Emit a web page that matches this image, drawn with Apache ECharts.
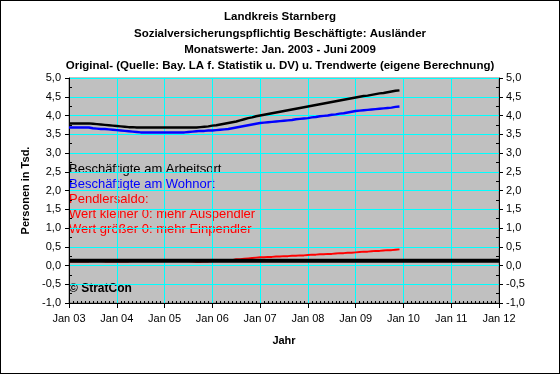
<!DOCTYPE html>
<html><head><meta charset="utf-8">
<script src="https://cdn.jsdelivr.net/npm/echarts@6/dist/echarts.min.js"></script>
<style>html,body{margin:0;padding:0;background:#fff}#c{width:560px;height:374px;box-sizing:border-box;border:1px solid #000}</style>
</head><body><div id="c"></div>
<script>
// Monthly values Jan 2003 .. Dec 2009 (thousands of persons)
const startYear = 2003;
const arbeitsort = [
3.79,3.79,3.79,3.79,3.79,3.79,3.78,3.77,3.76,3.75,3.74,3.73,
3.72,3.71,3.70,3.69,3.69,3.68,3.68,3.68,3.68,3.68,3.68,3.68,
3.68,3.68,3.68,3.68,3.68,3.68,3.68,3.68,3.68,3.69,3.70,3.71,
3.73,3.74,3.76,3.78,3.80,3.82,3.84,3.87,3.90,3.93,3.95,3.98,
4.00,4.02,4.04,4.06,4.08,4.10,4.12,4.14,4.16,4.18,4.20,4.22,
4.24,4.26,4.28,4.30,4.32,4.34,4.36,4.38,4.40,4.42,4.44,4.46,
4.48,4.50,4.52,4.53,4.55,4.57,4.59,4.60,4.62,4.64,4.66,4.67];
const wohnort = [
3.68,3.68,3.68,3.68,3.68,3.68,3.66,3.65,3.64,3.64,3.63,3.62,
3.61,3.60,3.59,3.58,3.57,3.56,3.55,3.55,3.55,3.55,3.55,3.55,
3.55,3.55,3.55,3.55,3.55,3.55,3.56,3.57,3.58,3.59,3.59,3.60,
3.60,3.61,3.62,3.63,3.64,3.66,3.68,3.70,3.72,3.74,3.76,3.78,
3.80,3.81,3.82,3.83,3.84,3.85,3.86,3.87,3.88,3.90,3.91,3.92,
3.93,3.95,3.96,3.98,3.99,4.00,4.02,4.03,4.05,4.06,4.08,4.10,
4.12,4.13,4.14,4.15,4.16,4.17,4.18,4.19,4.20,4.21,4.23,4.24];
const pendlersaldo = [
0.11,0.11,0.11,0.11,0.11,0.11,0.12,0.12,0.12,0.11,0.11,0.11,
0.11,0.11,0.11,0.11,0.12,0.12,0.13,0.13,0.13,0.13,0.13,0.13,
0.13,0.13,0.13,0.13,0.13,0.13,0.12,0.11,0.10,0.10,0.11,0.11,
0.12,0.12,0.13,0.13,0.14,0.14,0.17,0.17,0.18,0.19,0.20,0.21,
0.22,0.22,0.23,0.23,0.24,0.24,0.25,0.25,0.26,0.26,0.27,0.27,
0.28,0.29,0.29,0.30,0.30,0.31,0.31,0.32,0.33,0.33,0.34,0.34,
0.35,0.36,0.37,0.37,0.38,0.39,0.39,0.40,0.41,0.41,0.42,0.43];
const baseLineValue = 0.13;
const baseLineRange = [2003, 2012];
const xTicks = ['Jan 03','Jan 04','Jan 05','Jan 06','Jan 07','Jan 08','Jan 09','Jan 10','Jan 11','Jan 12'];
const titleLines = ['Landkreis Starnberg','Sozialversicherungspflichtig Beschäftigte: Ausländer','Monatswerte: Jan. 2003 - Juni 2009','Original- (Quelle: Bay. LA f. Statistik u. DV) u. Trendwerte (eigene Berechnung)'];
const notes = [
  ['Beschäftigte am Arbeitsort','#000000'],
  ['Beschäftigte am Wohnort','#0000ff'],
  ['Pendlersaldo:','#ff0000'],
  ['Wert kleiner 0: mehr Auspendler','#ff0000'],
  ['Wert größer 0: mehr Einpendler','#ff0000']
];

const toPairs = arr => arr.map((v,i)=>[startYear + i/12, v]);
const F = 'Liberation Sans, Arial, sans-serif';
const fmtY = v => v.toFixed(1).replace('.', ',');
const fmtX = v => xTicks[Math.round(v - startYear)] || '';

const chart = echarts.init(document.getElementById('c'), null, {renderer:'canvas'});
const yBase = {type:'value', min:-1, max:5, interval:0.5};
const xBase = {type:'value', min:2003, max:2012, interval:1};
const noteGraphics = notes.map((n,i)=>({
  type:'text', left:68, top:[162,177,192,207,222][i],
  style:{text:n[0], fill:n[1], font:'13px '+F}
}));
noteGraphics.push({type:'text', left:68, top:282, style:{text:'© StratCon', fill:'#000', font:'bold 12px '+F}});

chart.setOption({
  animation:false,
  backgroundColor:'#fff',
  title:{text:titleLines.join('\n'), left:'center', top:8, padding:0,
    textStyle:{fontFamily:F, fontSize:11.5, fontWeight:'bold', color:'#000', lineHeight:16.3}},
  grid:{left:68, right:60, top:77, bottom:70, show:true, backgroundColor:'#c0c0c0', borderColor:'#808080', borderWidth:1},
  xAxis:[
    Object.assign({}, xBase, {position:'bottom', name:'Jahr', nameLocation:'middle', nameGap:32,
      nameTextStyle:{fontFamily:F, fontSize:11, fontWeight:'bold', color:'#000'},
      axisLine:{show:true, onZero:false, lineStyle:{color:'#000', width:1}},
      axisTick:{show:true, length:5, lineStyle:{color:'#000'}},
      axisLabel:{formatter:fmtX, fontFamily:F, fontSize:11, color:'#000', margin:10},
      splitLine:{show:true, lineStyle:{color:'#00ffff', width:1}}}),
    Object.assign({}, xBase, {position:'bottom',
      axisLine:{show:false, onZero:false}, axisLabel:{show:false}, splitLine:{show:false},
      axisTick:{show:false, inside:true},
      minorTick:{show:true, splitNumber:12, length:2, lineStyle:{color:'#000'}}})
  ],
  yAxis:[
    Object.assign({}, yBase, {position:'left', name:'Personen in Tsd.', nameLocation:'middle', nameGap:32,
      nameTextStyle:{fontFamily:F, fontSize:11, fontWeight:'bold', color:'#000'},
      axisLine:{show:true, lineStyle:{color:'#000'}},
      axisTick:{show:true, length:4, lineStyle:{color:'#000'}},
      axisLabel:{formatter:fmtY, fontFamily:F, fontSize:11, color:'#000', margin:8},
      splitLine:{show:true, lineStyle:{color:'#00ffff', width:1}}}),
    Object.assign({}, yBase, {position:'right',
      axisLine:{show:true, lineStyle:{color:'#000'}},
      axisTick:{show:true, length:4, lineStyle:{color:'#000'}},
      axisLabel:{formatter:fmtY, fontFamily:F, fontSize:11, color:'#000', margin:7},
      splitLine:{show:false}}),
    Object.assign({}, yBase, {position:'left', axisLine:{show:false}, axisLabel:{show:false}, splitLine:{show:false},
      axisTick:{show:false, inside:true}, minorTick:{show:true, splitNumber:2, length:3, lineStyle:{color:'#000'}}}),
    Object.assign({}, yBase, {position:'right', axisLine:{show:false}, axisLabel:{show:false}, splitLine:{show:false},
      axisTick:{show:false, inside:true}, minorTick:{show:true, splitNumber:2, length:3, lineStyle:{color:'#000'}}})
  ],
  graphic: noteGraphics,
  series:[
    {type:'line', name:'Pendlersaldo', data:toPairs(pendlersaldo), showSymbol:false, step:'middle',
      lineStyle:{color:'#ff0000', width:2}, z:2},
    {type:'line', name:'Null', data:baseLineRange.map(x=>[x, baseLineValue]), showSymbol:false,
      lineStyle:{color:'#000', width:4}, z:3},
    {type:'line', name:'Wohnort', data:toPairs(wohnort), showSymbol:false, step:'middle',
      lineStyle:{color:'#0000ff', width:2.5}, z:4},
    {type:'line', name:'Arbeitsort', data:toPairs(arbeitsort), showSymbol:false, step:'middle',
      lineStyle:{color:'#000000', width:2.5}, z:5}
  ]
});
</script></body></html>
